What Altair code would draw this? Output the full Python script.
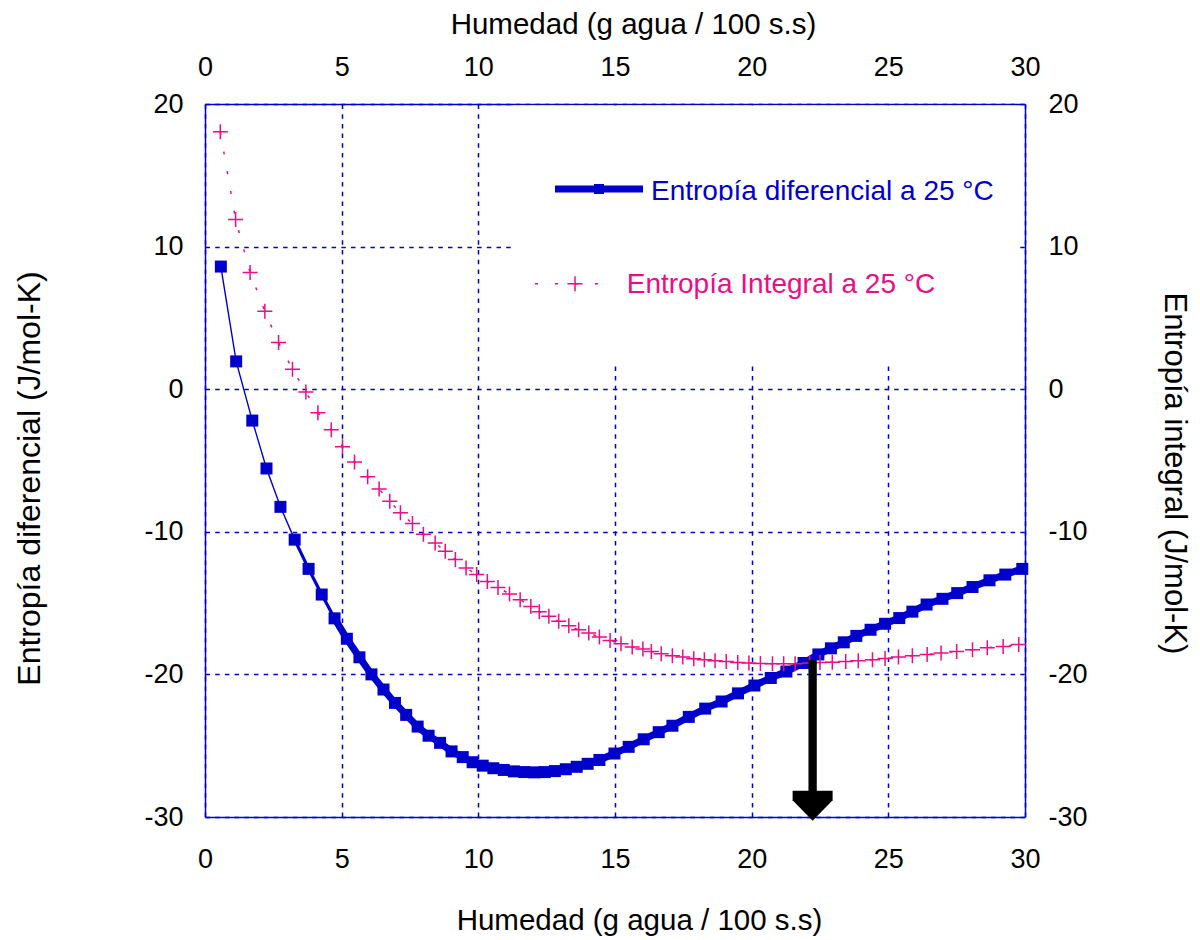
import altair as alt
import pandas as pd

# Differential entropy (J/mol-K) vs moisture (g water / 100 g d.s.)
moisture_dif = [0.58, 1.14, 1.73, 2.25, 2.76, 3.28, 3.79, 4.27, 4.74, 5.19,
                5.65, 6.09, 6.53, 6.95, 7.36, 7.78, 8.18, 8.60, 9.02, 9.43,
                9.79, 10.16, 10.55, 10.93, 11.30, 11.68, 12.05, 12.43, 12.80, 13.20,
                13.60, 14.00, 14.43, 14.98, 15.50, 16.05, 16.60, 17.10, 17.70, 18.30,
                18.90, 19.50, 20.10, 20.70, 21.27, 21.90, 22.44, 22.90, 23.37, 23.83,
                24.35, 24.88, 25.40, 25.88, 26.40, 26.98, 27.52, 28.08, 28.70, 29.28,
                29.90]
entropy_dif = [8.6, 1.95, -2.2, -5.56, -8.25, -10.55, -12.6, -14.4, -16.07, -17.5,
               -18.8, -20.0, -21.06, -22.0, -22.84, -23.66, -24.3, -24.8, -25.4, -25.8,
               -26.16, -26.4, -26.58, -26.7, -26.8, -26.85, -26.87, -26.85, -26.78, -26.65,
               -26.48, -26.27, -26.0, -25.55, -25.08, -24.55, -24.05, -23.6, -22.98, -22.4,
               -21.9, -21.33, -20.78, -20.25, -19.8, -19.2, -18.6, -18.17, -17.75, -17.3,
               -16.87, -16.45, -16.05, -15.6, -15.1, -14.7, -14.3, -13.87, -13.4, -13.0,
               -12.6]

# Integral entropy (J/mol-K) vs moisture
moisture_int = [0.56, 1.12, 1.65, 2.19, 2.69, 3.20, 3.69, 4.13, 4.62, 5.03,
                5.47, 5.95, 6.37, 6.76, 7.15, 7.59, 7.99, 8.42, 8.79, 9.16,
                9.55, 9.94, 10.33, 10.72, 11.14, 11.53, 11.92, 12.23, 12.58, 12.94,
                13.31, 13.67, 14.04, 14.43, 14.82, 15.22, 15.63, 16.02, 16.33, 16.69,
                17.10, 17.48, 17.88, 18.27, 18.66, 19.07, 19.49, 19.90, 20.32, 20.76,
                21.17, 21.59, 22.12, 22.50, 22.95, 23.44, 23.90, 24.42, 24.88, 25.37,
                25.88, 26.42, 26.93, 27.50, 28.08, 28.62, 29.20, 29.77]
entropy_int = [18.05, 11.9, 8.18, 5.46, 3.27, 1.4, -0.2, -1.65, -2.85, -4.04,
               -5.11, -6.14, -6.99, -7.85, -8.67, -9.42, -10.17, -10.78, -11.37, -11.95,
               -12.54, -13.0, -13.48, -13.9, -14.36, -14.76, -15.23, -15.6, -15.93, -16.28,
               -16.59, -16.87, -17.1, -17.38, -17.62, -17.85, -18.08, -18.22, -18.39, -18.55,
               -18.69, -18.78, -18.9, -18.97, -19.04, -19.1, -19.17, -19.2, -19.23, -19.25,
               -19.26, -19.25, -19.2, -19.17, -19.15, -19.1, -19.04, -18.97, -18.88, -18.78,
               -18.69, -18.6, -18.5, -18.39, -18.27, -18.13, -18.04, -17.9]

x_ticks = [0, 5, 10, 15, 20, 25, 30]
y_ticks = [-30, -20, -10, 0, 10, 20]
x_domain = [0, 30]
y_domain = [-30, 20]

x_title = "Humedad (g agua / 100 s.s)"
y_left_title = "Entropía diferencial (J/mol-K)"
y_right_title = "Entropía integral (J/mol-K)"
legend_labels = ["Entropía diferencial a 25 °C", "Entropía Integral a 25 °C"]

# Arrow marking the crossing of both curves
arrow_x = [22.23]
arrow_top = [-19.0]
arrow_shaft_end = [-28.3]
arrow_head_y = [-29.17]

# Blank region behind the legend (hides the grid there)
legend_box = {"x": [11.3], "x2": [29.67], "y": [1.85], "y2": [19.9]}

BLUE = "#0000CC"
PINK = "#EE0C84"
FONT = "Liberation Sans"

W, H = 820, 713

xs = alt.Scale(domain=x_domain, nice=False, zero=False)
ys = alt.Scale(domain=y_domain, nice=False, zero=False)

common_axis = dict(
    ticks=False, tickSize=0, domainColor=BLUE, domainWidth=1.5, labelFlush=False,
    labelExpr="'' + datum.value",
    labelFont=FONT, labelFontSize=27, labelColor="black",
    titleFont=FONT, titleFontWeight="normal", titleColor="black",
    titleBaseline="alphabetic",
)
grid_style = dict(grid=True, gridColor=BLUE, gridDash=[4.5, 5.2], gridWidth=1.5, gridOpacity=1)

axis_bottom = alt.Axis(orient="bottom", values=x_ticks, labelPadding=29, title=x_title,
                       titleFontSize=29.5, titleX=434, titleY=112, **grid_style, **common_axis)
axis_left = alt.Axis(orient="left", values=y_ticks, labelPadding=22, title=y_left_title,
                     titleFontSize=32, titleAngle=-90, titleX=-166, titleY=374,
                     **grid_style, **common_axis)
axis_top = alt.Axis(orient="top", values=x_ticks, labelPadding=23, title=x_title,
                    titleFontSize=29.5, titleX=428, titleY=-71, grid=False, **common_axis)
axis_right = alt.Axis(orient="right", values=y_ticks, labelPadding=23, title=y_right_title,
                      titleFontSize=31, titleAngle=90, titleX=139, titleY=369, grid=False,
                      **common_axis)

dif = pd.DataFrame({"h": moisture_dif, "s": entropy_dif})
intg = pd.DataFrame({"h": moisture_int, "s": entropy_int})
one = pd.DataFrame({"k": [0]})

enc_dif = dict(x=alt.X("h:Q", scale=xs, axis=None), y=alt.Y("s:Q", scale=ys, axis=None))

# Base layer carrying bottom/left axes and the grid
mask = alt.Chart(pd.DataFrame(legend_box)).mark_rect(color="white", opacity=1).encode(
    x=alt.X("x:Q", scale=xs, axis=axis_bottom),
    x2="x2:Q",
    y=alt.Y("y:Q", scale=ys, axis=axis_left),
    y2="y2:Q",
)

# Differential curve: hairline at the steep start, heavy stroke further on
dif_thin = alt.Chart(dif).mark_line(color=BLUE, strokeWidth=1.4).encode(**enc_dif)
dif_mid = alt.Chart(dif).mark_line(color=BLUE, strokeWidth=3.2).encode(**enc_dif).transform_filter(
    "datum.h >= 3.2 && datum.h <= 4.8")
dif_thick = alt.Chart(dif).mark_line(color=BLUE, strokeWidth=7).encode(**enc_dif).transform_filter(
    "datum.h >= 4.7")
dif_pts = alt.Chart(dif).mark_point(shape="square", filled=True, color=BLUE,
                                    size=144, opacity=1).encode(**enc_dif)

# Integral series carries the top/right axes
int_line = alt.Chart(intg).mark_line(color=PINK, strokeWidth=1.5, strokeDash=[3, 17]).encode(
    x=alt.X("h:Q", scale=xs, axis=axis_top),
    y=alt.Y("s:Q", scale=ys, axis=axis_right),
)
plus = "M-1,0L1,0M0,-1L0,1"
int_pts = alt.Chart(intg).mark_point(shape=plus, filled=False, color=PINK, strokeWidth=1.5,
                                     size=225, opacity=1).encode(
    x=alt.X("h:Q", scale=xs, axis=None),
    y=alt.Y("s:Q", scale=ys, axis=None),
)

arrow_df = pd.DataFrame({"x": arrow_x, "y": arrow_top, "y2": arrow_shaft_end, "yh": arrow_head_y})
arrow_shaft = alt.Chart(arrow_df).mark_rule(color="black", strokeWidth=8.3).encode(
    x=alt.X("x:Q", scale=xs, axis=None),
    y=alt.Y("y:Q", scale=ys, axis=None),
    y2="y2:Q",
)
head = "M-1,-0.72L1,-0.72L1,-0.25L0,0.78L-1,-0.25Z"
arrow_head = alt.Chart(arrow_df).mark_point(shape=head, filled=True, color="black",
                                            size=1600, opacity=1, clip=False).encode(
    x=alt.X("x:Q", scale=xs, axis=None),
    y=alt.Y("yh:Q", scale=ys, axis=None),
)

# Legend drawn by hand in the upper right corner
leg_dif_line = alt.Chart(one).mark_rule(color=BLUE, strokeWidth=7).encode(
    x=alt.value(350), x2=alt.value(438), y=alt.value(85))
leg_dif_pt = alt.Chart(one).mark_point(shape="square", filled=True, color=BLUE,
                                       size=100, opacity=1).encode(
    x=alt.value(394), y=alt.value(85))
leg_dif_text = alt.Chart(one).mark_text(align="left", baseline="alphabetic", font=FONT,
                                        fontSize=28, color=BLUE,
                                        text=legend_labels[0]).encode(
    x=alt.value(446), y=alt.value(95.7))
leg_clip = alt.Chart(one).mark_rect(color="white", opacity=1).encode(
    x=alt.value(440), x2=alt.value(800), y=alt.value(96.4), y2=alt.value(106))
leg_int_line = alt.Chart(one).mark_rule(color=PINK, strokeWidth=1.5, strokeDash=[3, 17],
                                        strokeDashOffset=-2).encode(
    x=alt.value(328), x2=alt.value(410), y=alt.value(179.7))
leg_int_pt = alt.Chart(one).mark_point(shape=plus, filled=False, color=PINK, strokeWidth=1.5,
                                       size=225, opacity=1).encode(
    x=alt.value(370), y=alt.value(179.7))
leg_int_text = alt.Chart(one).mark_text(align="left", baseline="alphabetic", font=FONT,
                                        fontSize=28, color=PINK,
                                        text=legend_labels[1]).encode(
    x=alt.value(421.7), y=alt.value(188.7))

chart = alt.layer(
    mask, dif_thin, dif_mid, dif_thick, dif_pts, int_line, int_pts, arrow_shaft, arrow_head,
    leg_dif_line, leg_dif_pt, leg_dif_text, leg_clip, leg_int_line, leg_int_pt, leg_int_text,
).resolve_scale(
    x="independent", y="independent"
).properties(
    width=W, height=H,
    autosize=alt.AutoSizeParams(type="none"),
    padding={"left": 205, "top": 104, "right": 175, "bottom": 123},
    background="white",
).configure_view(
    stroke=None
)

chart.save("out.html", embed_options={"renderer": "svg", "actions": False})
